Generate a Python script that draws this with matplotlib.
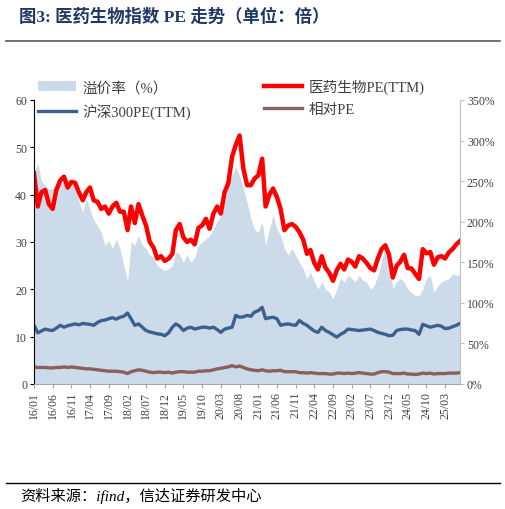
import pandas as pd
import matplotlib
matplotlib.use('Agg')
import matplotlib.pyplot as plt
import matplotlib.dates as mdates
import matplotlib.ticker as mtick

plt.rcParams['font.family'] = ['Liberation Serif', 'Noto Sans CJK SC']

# monthly readings, 2016/01 .. 2025/07
med_pe = [44.5, 37.5, 40.5, 41.0, 38.0, 37.0, 41.0, 43.0, 43.8, 41.5,
          42.7, 42.5, 40.5, 38.8, 40.5, 41.5, 38.8, 38.5, 37.0, 37.5,
          36.0, 37.5, 38.3, 36.4, 36.4, 32.5, 37.5, 34.0, 38.0, 35.6,
          33.5, 30.0, 28.8, 26.5, 27.0, 26.0, 26.5, 27.5, 32.5, 33.8,
          31.0, 30.0, 30.5, 29.5, 33.0, 33.5, 34.9, 32.8, 36.0, 37.5,
          36.0, 40.5, 42.4, 48.0, 50.5, 52.5, 45.5, 42.0, 42.0, 43.4,
          44.1, 47.6, 37.5, 40.0, 41.3, 39.5, 37.0, 32.5, 33.5, 33.8,
          33.2, 32.1, 30.5, 27.5, 28.3, 25.6, 24.2, 27.0, 24.6, 23.5,
          21.8, 24.0, 25.4, 24.2, 26.3, 25.8, 24.8, 27.0, 26.5, 25.6,
          24.5, 24.0, 26.5, 28.5, 29.3, 27.3, 22.5, 25.0, 25.8, 27.3,
          24.5, 24.4, 23.3, 22.2, 28.5, 27.6, 27.9, 25.2, 26.8, 27.0,
          26.5, 27.8, 28.5, 29.5, 30.2]

hs300_pe = [12.4, 10.8, 11.2, 11.6, 11.4, 11.3, 11.8, 12.4, 12.0, 12.3,
            12.5, 12.7, 12.5, 12.8, 12.7, 12.6, 12.4, 13.0, 13.4, 13.5,
            13.8, 14.0, 13.7, 14.1, 14.3, 15.0, 13.8, 12.4, 12.7, 12.0,
            11.3, 11.0, 10.8, 10.6, 10.5, 10.2, 10.8, 12.0, 12.7, 12.2,
            11.3, 11.8, 12.0, 11.6, 11.8, 12.0, 12.0, 11.8, 12.0, 11.5,
            10.9, 11.6, 11.8, 12.0, 14.5, 14.1, 14.2, 14.5, 14.3, 15.2,
            15.5, 16.2, 13.8, 14.0, 14.1, 13.8, 12.4, 12.6, 12.7, 12.5,
            12.4, 13.4, 12.8, 12.4, 11.8, 11.2, 10.9, 12.0, 11.3, 10.9,
            10.4, 9.9, 10.5, 10.9, 11.6, 11.5, 11.4, 11.3, 11.4, 11.5,
            11.6, 11.3, 10.9, 10.7, 10.5, 10.2, 10.3, 11.3, 11.5, 11.6,
            11.6, 11.4, 11.3, 10.5, 12.6, 12.3, 12.0, 12.2, 12.4, 12.2,
            11.7, 11.8, 12.1, 12.4, 12.8]

rel_pe = [3.6, 3.5, 3.5, 3.5, 3.4, 3.4, 3.5, 3.5, 3.6, 3.5,
          3.6, 3.5, 3.4, 3.3, 3.2, 3.2, 3.1, 3.0, 2.9, 2.8,
          2.7, 2.7, 2.7, 2.6, 2.5, 2.2, 2.6, 2.8, 3.0, 2.9,
          2.7, 2.5, 2.4, 2.5, 2.5, 2.4, 2.5, 2.3, 2.5, 2.6,
          2.6, 2.5, 2.5, 2.5, 2.7, 2.7, 2.8, 2.8, 3.0, 3.2,
          3.3, 3.5, 3.6, 3.9, 3.6, 3.8, 3.5, 3.2, 3.0, 2.9,
          2.8, 3.0, 2.8, 2.7, 2.8, 2.8, 2.9, 2.6, 2.6, 2.6,
          2.6, 2.4, 2.4, 2.3, 2.4, 2.3, 2.2, 2.2, 2.2, 2.1,
          2.1, 2.3, 2.3, 2.2, 2.3, 2.2, 2.3, 2.4, 2.3, 2.2,
          2.1, 2.1, 2.4, 2.6, 2.6, 2.5, 2.2, 2.2, 2.2, 2.3,
          2.1, 2.1, 2.0, 2.1, 2.3, 2.2, 2.3, 2.1, 2.2, 2.2,
          2.2, 2.3, 2.3, 2.3, 2.4]

premium = [261, 272, 250, 245, 240, 241, 245, 247, 250, 253,
           250, 247, 225, 212, 229, 215, 202, 195, 187, 171,
           177, 167, 179, 167, 146, 126, 175, 171, 183, 171,
           167, 159, 156, 146, 142, 140, 142, 146, 163, 160,
           150, 159, 150, 156, 171, 175, 179, 183, 191, 200,
           208, 224, 245, 257, 268, 257, 241, 224, 204, 190,
           187, 200, 171, 191, 208, 191, 183, 167, 159, 167,
           159, 150, 142, 130, 138, 126, 117, 126, 117, 113,
           105, 117, 130, 126, 134, 130, 126, 134, 128, 126,
           117, 121, 134, 150, 171, 150, 117, 126, 130, 126,
           117, 113, 109, 109, 117, 130, 134, 113, 121, 126,
           128, 130, 136, 134, 135]

dates = pd.date_range('2016-01-01', periods=len(med_pe), freq='MS')

fig = plt.figure(figsize=(5.06, 5.10), dpi=100)
ax = fig.add_axes([34/506, 125/510, 426/506, 284/510])
ax2 = ax.twinx()

area = ax2.fill_between(dates, premium, 0, color='#ccdbea', lw=0, label='溢价率（%）')
l1, = ax.plot(dates, med_pe, color='#ff0000', lw=3.2, label='医药生物PE(TTM)')
l2, = ax.plot(dates, hs300_pe, color='#3d5f8e', lw=2.4, label='沪深300PE(TTM)')
l3, = ax.plot(dates, rel_pe, color='#8c5e5e', lw=2.4, label='相对PE')

ax.set_zorder(ax2.get_zorder() + 1)
ax.patch.set_visible(False)

ax.set_xlim(dates[0], dates[-1])
ax.set_ylim(0, 60)
ax2.set_ylim(0, 350)
ax.set_yticks(range(0, 61, 10))
ax2.set_yticks(range(0, 351, 50))
ax2.yaxis.set_major_formatter(mtick.StrMethodFormatter('{x:.0f}%'))

ticks = pd.date_range('2016-01-01', '2025-03-01', freq='5MS')
ax.set_xticks(ticks)
ax.xaxis.set_major_formatter(mdates.DateFormatter('%y/%m'))
plt.setp(ax.get_xticklabels(), rotation=90)

for a in (ax, ax2):
    a.spines['top'].set_visible(False)
    a.tick_params(labelsize=8.5, labelcolor='#404040', length=3, width=0.8, pad=2)
ax.spines['left'].set_color('black')
ax.spines['right'].set_visible(False)
ax2.spines['left'].set_visible(False)
ax2.spines['right'].set_color('#bfbfbf')
ax2.spines['bottom'].set_visible(False)
ax.spines['bottom'].set_color('#a6a6a6')
ax.tick_params(axis='x', color='#a6a6a6')
ax2.tick_params(axis='y', color='#bfbfbf')

fig.legend([area, l2, l1, l3], ['溢价率（%）', '沪深300PE(TTM)', '医药生物PE(TTM)', '相对PE'],
           ncol=2, loc='upper left', bbox_to_anchor=(28/506, 1 - 70/510), frameon=False,
           fontsize=10.5, handlelength=2.6, columnspacing=5.0, labelspacing=0.6,
           labelcolor='#404040', handletextpad=0.45, borderpad=0.2)

fig.text(19/506, 1 - 17/510, '图3: 医药生物指数 PE 走势（单位：倍）', fontsize=12.5,
         fontweight='bold', color='#1f3864', va='center')
fig.add_artist(plt.Line2D([6/506, 500/506], [1 - 42/510, 1 - 42/510], color='#595959', lw=1.2))
fig.add_artist(plt.Line2D([6/506, 500/506], [1 - 484/510, 1 - 484/510], color='black', lw=1.0))
fig.text(20/506, 1 - 496/510, '资料来源：ifind，信达证券研发中心', fontsize=11,
         style='italic', color='black', va='center')

plt.savefig('out.png', dpi=100)
